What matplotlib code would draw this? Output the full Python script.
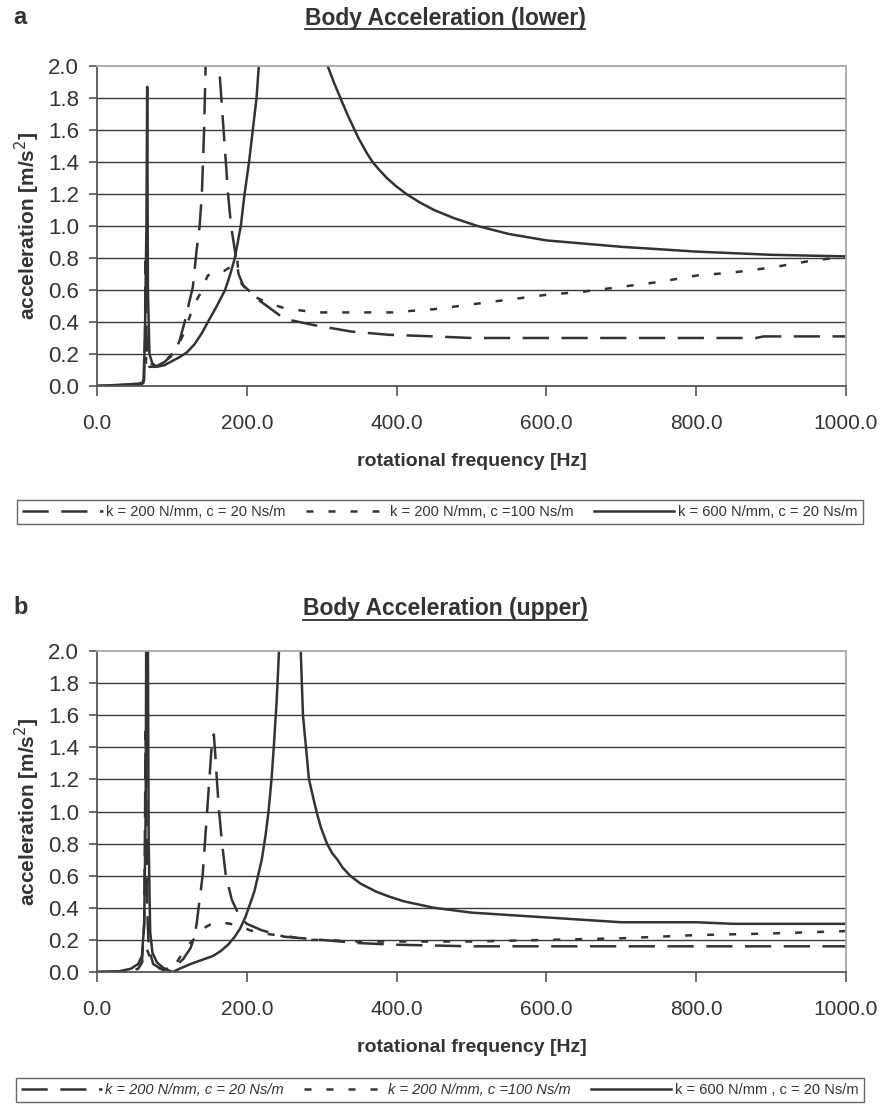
import matplotlib
matplotlib.use("Agg")
import matplotlib.pyplot as plt
from matplotlib.lines import Line2D
from matplotlib import font_manager

names = {f.name for f in font_manager.fontManager.ttflist}
NARROW = ['Liberation Sans Narrow', 'Liberation Sans', 'DejaVu Sans'] if 'Liberation Sans Narrow' in names else ['Liberation Sans', 'DejaVu Sans']
REG = ['Liberation Sans', 'DejaVu Sans']
plt.rcParams['font.family'] = REG

# ---------------- data: panel a (lower) ----------------
a_f_k200c20 = [0, 20, 40, 55, 60, 63, 64, 65, 66, 67, 70, 78, 90, 102, 110, 117, 122, 128, 133, 137,
               140, 143, 145, 150, 155, 160, 163, 169, 172, 175, 179, 184, 189, 195, 202, 215, 227,
               250, 270, 290, 340, 390, 450, 500, 600, 700, 800, 880, 890, 1000]
a_v_k200c20 = [0.0, 0.003, 0.006, 0.01, 0.012, 0.05, 0.3, 0.78, 0.35, 0.2, 0.15, 0.12, 0.15, 0.2, 0.28, 0.4, 0.5,
               0.62, 0.85, 1.0, 1.2, 1.6, 2.0, 3.2, 3.5, 2.6, 2.0, 1.6, 1.4, 1.2, 1.0, 0.85, 0.7, 0.63, 0.6,
               0.54, 0.5, 0.42, 0.4, 0.38, 0.34, 0.32, 0.31, 0.30, 0.30, 0.30, 0.30, 0.30, 0.31, 0.31]

a_f_k200c100 = [0, 20, 40, 55, 60, 64, 66, 70, 80, 90, 100, 110, 118, 125, 132, 137, 142, 148, 158, 170,
                180, 187, 189, 193, 200, 210, 227, 248, 275, 300, 350, 400, 420, 450, 500, 550, 600, 650,
                700, 750, 800, 850, 900, 950, 1000]
a_v_k200c100 = [0.0, 0.003, 0.006, 0.01, 0.012, 0.05, 0.2, 0.12, 0.12, 0.15, 0.2, 0.27, 0.35, 0.45, 0.53,
                0.57, 0.63, 0.69, 0.72, 0.72, 0.75, 0.80, 0.70, 0.64, 0.6, 0.56, 0.52, 0.49, 0.47, 0.46,
                0.46, 0.46, 0.47, 0.48, 0.51, 0.54, 0.57, 0.59, 0.62, 0.65, 0.69, 0.71, 0.74, 0.78, 0.81]

a_f_k600c20 = [0, 20, 40, 55, 62, 64, 66, 67, 68, 70, 74, 80, 90, 100, 110, 120, 130, 140, 148, 160, 171,
               178, 184, 192, 197, 203, 208, 213, 216, 230, 260, 290, 308, 316, 325, 334, 344, 349, 355,
               361, 368, 377, 387, 399, 413, 430, 450, 476, 508, 550, 600, 650, 700, 750, 800, 850, 900,
               950, 1000]
a_v_k600c20 = [0.0, 0.005, 0.01, 0.015, 0.02, 0.3, 1.0, 1.87, 0.6, 0.2, 0.14, 0.12, 0.13, 0.155, 0.18, 0.21,
               0.26, 0.33, 0.4, 0.5, 0.6, 0.7, 0.8, 1.0, 1.2, 1.4, 1.6, 1.8, 2.0, 3.0, 4.0, 3.0, 2.0, 1.9,
               1.8, 1.7, 1.6, 1.55, 1.5, 1.45, 1.4, 1.35, 1.3, 1.25, 1.2, 1.15, 1.1, 1.05, 1.0, 0.95,
               0.91, 0.89, 0.87, 0.855, 0.84, 0.83, 0.82, 0.815, 0.81]

# ---------------- data: panel b (upper) ----------------
b_f_k200c20 = [0, 20, 40, 55, 60, 63, 64, 65, 66, 67, 69, 75, 85, 95, 105, 115, 125, 130, 133, 137, 141,
               144, 147, 150, 153, 156, 158, 160, 163, 167, 172, 180, 190, 200, 220, 250, 300, 350, 400,
               500, 600, 700, 800, 900, 1000]
b_v_k200c20 = [0.0, 0.002, 0.005, 0.02, 0.06, 0.3, 0.9, 1.5, 1.0, 0.4, 0.15, 0.05, 0.02, 0.02, 0.04, 0.08,
               0.15, 0.22, 0.3, 0.45, 0.6, 0.8, 1.0, 1.2, 1.4, 1.48, 1.35, 1.2, 1.0, 0.8, 0.6, 0.45, 0.35,
               0.3, 0.26, 0.22, 0.2, 0.18, 0.17, 0.16, 0.16, 0.16, 0.16, 0.16, 0.16]

b_f_k200c100 = [0, 20, 40, 55, 62, 66, 70, 80, 90, 97, 105, 120, 135, 145, 153, 165, 178, 190, 204, 222,
                258, 284, 300, 350, 420, 500, 600, 700, 800, 900, 1000]
b_v_k200c100 = [0.0, 0.002, 0.005, 0.02, 0.08, 0.15, 0.1, 0.03, 0.01, 0.02, 0.05, 0.16, 0.23, 0.28, 0.3,
                0.31, 0.3, 0.29, 0.26, 0.24, 0.22, 0.2, 0.2, 0.19, 0.19, 0.19, 0.2, 0.21, 0.23, 0.24, 0.255]

b_f_k600c20 = [0, 30, 45, 55, 60, 63, 65, 66, 67, 68, 69, 71, 74, 80, 90, 101, 110, 125, 140, 155, 165,
               175, 184, 191, 198, 204, 210, 215, 220, 225, 229, 233, 236, 240, 243, 250, 258, 266, 272,
               275, 283, 293, 299, 307, 314, 321, 328, 338, 352, 373, 390, 410, 450, 500, 550, 600, 650,
               700, 800, 850, 1000]
b_v_k600c20 = [0.0, 0.005, 0.02, 0.05, 0.1, 0.3, 1.0, 2.5, 3.0, 2.0, 0.8, 0.25, 0.12, 0.06, 0.02, 0.0,
               0.02, 0.05, 0.075, 0.1, 0.13, 0.17, 0.22, 0.27, 0.34, 0.42, 0.5, 0.6, 0.7, 0.85, 1.0, 1.2,
               1.4, 1.7, 2.0, 3.0, 3.5, 3.0, 2.0, 1.6, 1.2, 1.0, 0.9, 0.8, 0.74, 0.7, 0.65, 0.6, 0.55,
               0.5, 0.47, 0.44, 0.4, 0.37, 0.355, 0.34, 0.325, 0.31, 0.31, 0.30, 0.30]

x_ticks = [0, 200, 400, 600, 800, 1000]
x_tick_labels = ['0.0', '200.0', '400.0', '600.0', '800.0', '1000.0']
y_ticks = [0.0, 0.2, 0.4, 0.6, 0.8, 1.0, 1.2, 1.4, 1.6, 1.8, 2.0]
y_tick_labels = ['%.1f' % v for v in y_ticks]

labels_a = ['k = 200 N/mm, c = 20 Ns/m', 'k = 200 N/mm, c =100 Ns/m', 'k = 600 N/mm, c = 20 Ns/m']
labels_b = ['k = 200 N/mm, c = 20 Ns/m', 'k = 200 N/mm, c =100 Ns/m', 'k = 600 N/mm , c = 20 Ns/m']
titles = ['Body Acceleration (lower)', 'Body Acceleration (upper)']
panel_letters = ['a', 'b']

# ---------------- figure ----------------
W, H = 880, 1111
fig = plt.figure(figsize=(W / 100, H / 100), dpi=100)
C = '#333333'
LW = 1.8
LONG = (0, (10.5, 5.0))
SHORT = (0, (2.8, 6.0))


def px_rect(l, t, r, b):
    return [l / W, 1 - b / H, (r - l) / W, (b - t) / H]


panels = [
    dict(rect=px_rect(97, 66, 846, 386), series=[(a_f_k200c20, a_v_k200c20), (a_f_k200c100, a_v_k200c100),
                                               (a_f_k600c20, a_v_k600c20)], labels=labels_a,
         italic=[False, False, False], title_y=18, leg_y=512),
    dict(rect=px_rect(97, 651, 846, 972), series=[(b_f_k200c20, b_v_k200c20), (b_f_k200c100, b_v_k200c100),
                                                (b_f_k600c20, b_v_k600c20)], labels=labels_b,
         italic=[True, True, False], title_y=609, leg_y=1090),
]
styles = [LONG, SHORT, '-']

title_texts = []
for i, p in enumerate(panels):
    ax = fig.add_axes(p['rect'])
    handles = []
    for (f, v), ls in zip(p['series'], styles):
        ln, = ax.plot(f, v, color=C, lw=LW, linestyle=ls, solid_joinstyle='round')
        handles.append(ln)
    ax.set_xlim(0, 1000)
    ax.set_ylim(0, 2.0)
    ax.set_yticks(y_ticks)
    ax.set_yticklabels(y_tick_labels, fontsize=16, color=C)
    ax.set_xticks(x_ticks)
    ax.set_xticklabels(x_tick_labels, fontsize=15, color=C, family=NARROW)
    ax.tick_params(axis='x', direction='out', length=7, width=1.2, color='#555555', pad=13.5)
    ax.tick_params(axis='y', direction='out', length=6, width=1.2, color='#555555', pad=7)
    for yv in y_ticks[1:-1]:
        ax.axhline(yv, color='#3a3a3a', lw=1.0, zorder=0)
    for s in ['top', 'right']:
        ax.spines[s].set_color('#a8a8a8')
        ax.spines[s].set_linewidth(1.3)
    for s in ['left', 'bottom']:
        ax.spines[s].set_color('#555555')
        ax.spines[s].set_linewidth(1.3)
    ax.set_ylabel('acceleration [m/s$^2$]', fontsize=15, fontweight='bold', color=C, labelpad=4)
    ax.set_xlabel('rotational frequency [Hz]', fontsize=14, fontweight='bold', color=C,
                  family=NARROW, labelpad=14)
    # titles and panel letters
    tt = fig.text(445 / W, 1 - p['title_y'] / H, titles[i], ha='center', va='center', fontsize=16.5,
                  fontweight='bold', color=C, family=NARROW)
    title_texts.append(tt)
    fig.text(13 / W, 1 - (p['title_y'] - 1) / H, panel_letters[i], ha='left', va='center', fontsize=17,
             fontweight='bold', color=C, family=NARROW)
    # legend
    leg = fig.legend(handles, p['labels'], loc='center', bbox_to_anchor=(440 / W, 1 - p['leg_y'] / H),
                     ncol=3, frameon=True, fancybox=False, edgecolor='#444444', fontsize=10.5,
                     handlelength=5.5, handletextpad=0.25, columnspacing=1.4, borderpad=0.35)
    leg.get_frame().set_linewidth(1.0)
    for t, it in zip(leg.get_texts(), p['italic']):
        t.set_family(NARROW)
        t.set_color(C)
        t.set_fontsize(10.5)
        if it:
            t.set_style('italic')

fig.canvas.draw()
r = fig.canvas.get_renderer()
for tt in title_texts:
    bb = tt.get_window_extent(r)
    y = bb.y0 + 1
    fig.add_artist(Line2D([bb.x0 / W, bb.x1 / W], [y / H, y / H], color=C, lw=1.3,
                          transform=fig.transFigure))

fig.savefig('out.png', dpi=100)
